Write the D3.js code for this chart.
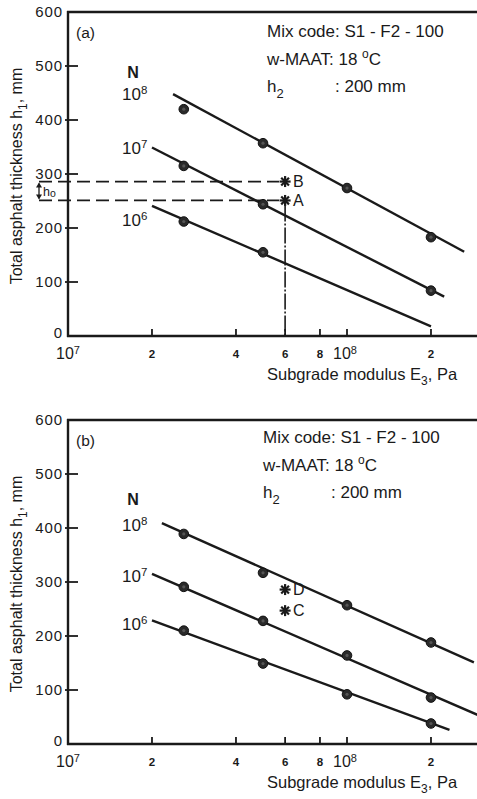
<!DOCTYPE html>
<html>
<head>
<meta charset="utf-8">
<script src="https://cdn.jsdelivr.net/npm/d3@7"></script>
<style>
  html, body { margin: 0; padding: 0; background: #fff; }
  svg { display: block; }
  text { font-family: "Liberation Sans", Arial, Helvetica, sans-serif; fill: #1a1a1a; }
</style>
</head>
<body>
<svg id="chart" width="477" height="799"></svg>
<script>
// Subgrade modulus E3 (Pa) at which the design curves were evaluated
const moduli = [2.6e7, 5e7, 1e8, 2e8];
// Traffic levels (load repetitions N)
const trafficLabels = ["8", "7", "6"];

// Panel (a): computed thicknesses h1 (mm), null where no point was computed
const aN8 = [420, 357, 274, 183];
const aN7 = [315, 244, null, 84];
const aN6 = [212, 155, null, null];
// Panel (a): fitted design lines as [E3, h1] end points
const aLine8 = [[2.38e7, 448], [2.63e8, 156]];
const aLine7 = [[2.0e7, 349], [2.23e8, 73]];
const aLine6 = [[2.0e7, 241], [2.0e8, 18]];
// Panel (a): designs A and B at E3 = 6e7 Pa
const aStars = [{ name: "B", e: 6e7, h: 286 }, { name: "A", e: 6e7, h: 251 }];

// Panel (b): computed thicknesses h1 (mm)
const bN8 = [389, 317, 257, 188];
const bN7 = [291, 228, 164, 86];
const bN6 = [210, 149, 92, 38];
// Panel (b): fitted design lines
const bLine8 = [[2.17e7, 409], [2.85e8, 151]];
const bLine7 = [[2.0e7, 315], [3.0e8, 52]];
const bLine6 = [[2.0e7, 229], [2.33e8, 26]];
// Panel (b): designs C and D
const bStars = [{ name: "D", e: 6e7, h: 286 }, { name: "C", e: 6e7, h: 247 }];

// Axis ticks
const yTicks = [0, 100, 200, 300, 400, 500, 600];
const xMinorTicks = [2e7, 4e7, 6e7, 8e7, 2e8];
const xMinorLabels = ["2", "4", "6", "8", "2"];
const xDecades = [{ v: 1e7, exp: "7" }, { v: 1e8, exp: "8" }];

const infoLines = ["Mix code: S1 - F2 - 100", "w-MAAT: 18 ", ": 200 mm"];

const svg = d3.select("#chart");
const W = 477;
const ink = "#1a1a1a";

const x = d3.scaleLog().domain([1e7, 1e8]).range([68, 347]);

function drawPanel(opt) {
  const g = svg.append("g");
  const y = d3.scaleLinear().domain([0, 600]).range([opt.y0, opt.y0 - 324]);
  const xEnd = x(4e8);

  const clipId = "clip" + opt.tag;
  svg.append("clipPath").attr("id", clipId)
    .append("rect").attr("x", 0).attr("y", y(620)).attr("width", W).attr("height", y(-10) - y(620));
  const plot = g.append("g").attr("clip-path", `url(#${clipId})`);

  // frame: left and bottom axes, top border
  g.append("line").attr("x1", x(1e7)).attr("x2", x(1e7)).attr("y1", y(0) + 1).attr("y2", y(600) - 1)
    .attr("stroke", ink).attr("stroke-width", 2.4);
  g.append("line").attr("x1", x(1e7) - 1).attr("x2", xEnd).attr("y1", y(0)).attr("y2", y(0))
    .attr("stroke", ink).attr("stroke-width", 2.4);
  g.append("line").attr("x1", x(1e7) - 1).attr("x2", xEnd).attr("y1", y(600)).attr("y2", y(600))
    .attr("stroke", ink).attr("stroke-width", 2.4);

  // y ticks (inward) and labels
  yTicks.forEach(t => {
    if (t > 0 && t < 600) {
      g.append("line").attr("x1", x(1e7) - 3).attr("x2", x(1e7) + 10).attr("y1", y(t)).attr("y2", y(t))
        .attr("stroke", ink).attr("stroke-width", 1.8);
    }
    g.append("text").attr("x", x(1e7) - 5).attr("y", y(t) - (t === 0 ? 3 : 0)).attr("dy", "0.36em")
      .attr("text-anchor", "end").attr("font-size", 15).attr("letter-spacing", 0.9).text(t);
  });

  // x ticks (inward)
  xMinorTicks.concat([1e8]).forEach(t => {
    g.append("line").attr("x1", x(t)).attr("x2", x(t)).attr("y1", y(0)).attr("y2", y(0) - 7)
      .attr("stroke", ink).attr("stroke-width", 1.8);
  });
  xMinorTicks.forEach((t, i) => {
    g.append("text").attr("x", x(t)).attr("y", y(0) + 22).attr("text-anchor", "middle")
      .attr("font-size", 11.5).attr("font-weight", "bold").text(xMinorLabels[i]);
  });
  xDecades.forEach(d => {
    const tx = g.append("text").attr("x", x(d.v) - (d.v === 1e7 ? 0 : 2)).attr("y", y(0) + 23)
      .attr("text-anchor", "middle").attr("font-size", 16);
    tx.append("tspan").text("10");
    tx.append("tspan").attr("dy", -5).attr("font-size", 11).text(d.exp);
  });

  // axis titles
  const xt = g.append("text").attr("x", 267).attr("y", y(0) + 44).attr("font-size", 16.5);
  xt.append("tspan").text("Subgrade modulus E");
  xt.append("tspan").attr("dy", 5).attr("font-size", 12).text("3");
  xt.append("tspan").attr("dy", -5).text(", Pa");

  const yt = g.append("text")
    .attr("transform", `translate(22,${y(300) + 2}) rotate(-90)`)
    .attr("text-anchor", "middle").attr("font-size", 16);
  yt.append("tspan").text("Total asphalt thickness h");
  yt.append("tspan").attr("dy", 5).attr("font-size", 12).text("1");
  yt.append("tspan").attr("dy", -5).text(", mm");

  // panel tag
  g.append("text").attr("x", 76).attr("y", y(600) + 26).attr("font-size", 15.5).text(`(${opt.tag})`);

  // info block
  const ix = opt.infoX, iy = y(600) + opt.infoDy;
  g.append("text").attr("x", ix).attr("y", iy).attr("font-size", 17).text(infoLines[0]);
  const t2 = g.append("text").attr("x", ix).attr("y", iy + 28).attr("font-size", 17);
  t2.append("tspan").text(infoLines[1]);
  t2.append("tspan").attr("dy", -7).attr("font-size", 12).text("o");
  t2.append("tspan").attr("dy", 7).text("C");
  const t3 = g.append("text").attr("x", ix).attr("y", iy + 55).attr("font-size", 17);
  t3.append("tspan").text("h");
  t3.append("tspan").attr("dy", 6).attr("font-size", 13).text("2");
  g.append("text").attr("x", ix + 68).attr("y", iy + 55).attr("font-size", 17).text(infoLines[2]);

  // N labels
  g.append("text").attr("x", 133).attr("y", opt.nY).attr("font-size", 16).attr("font-weight", "bold")
    .attr("text-anchor", "middle").text("N");
  opt.labelY.forEach((ly, i) => {
    const t = g.append("text").attr("x", 122).attr("y", ly).attr("font-size", 17);
    t.append("tspan").text("10");
    t.append("tspan").attr("dy", -6).attr("font-size", 11.5).text(trafficLabels[i]);
  });

  // fitted lines
  const lineGen = d3.line().x(d => x(d[0])).y(d => y(d[1]));
  opt.lines.forEach(l => {
    plot.append("path").attr("d", lineGen(l)).attr("fill", "none")
      .attr("stroke", ink).attr("stroke-width", 2.4);
  });

  // computed points
  opt.series.forEach(s => {
    s.forEach((h, i) => {
      if (h == null) return;
      plot.append("circle").attr("cx", x(moduli[i])).attr("cy", y(h)).attr("r", 4.8)
        .attr("fill", "#2a2a2a").attr("stroke", "#111").attr("stroke-width", 1);
      plot.append("circle").attr("cx", x(moduli[i])).attr("cy", y(h)).attr("r", 1.6)
        .attr("fill", "#555");
    });
  });

  // reference construction lines (panel a)
  if (opt.guides) {
    opt.stars.forEach(s => {
      g.append("line").attr("x1", 39).attr("x2", x(s.e) - 6).attr("y1", y(s.h)).attr("y2", y(s.h))
        .attr("stroke", ink).attr("stroke-width", 1.8).attr("stroke-dasharray", "13,6");
    });
    const a = opt.stars[1];
    g.append("line").attr("x1", x(a.e)).attr("x2", x(a.e)).attr("y1", y(a.h) + 5).attr("y2", y(0))
      .attr("stroke", ink).attr("stroke-width", 1.6).attr("stroke-dasharray", "16,2,2,2");
    // h0 dimension arrow
    const b = opt.stars[0];
    const ax = 39;
    g.append("line").attr("x1", ax).attr("x2", ax).attr("y1", y(b.h) + 2).attr("y2", y(a.h) - 2)
      .attr("stroke", ink).attr("stroke-width", 1.3);
    g.append("path").attr("d", `M${ax - 3},${y(b.h) + 6}L${ax},${y(b.h) + 1}L${ax + 3},${y(b.h) + 6}Z`)
      .attr("fill", ink);
    g.append("path").attr("d", `M${ax - 3},${y(a.h) - 6}L${ax},${y(a.h) - 1}L${ax + 3},${y(a.h) - 6}Z`)
      .attr("fill", ink);
    const ht = g.append("text").attr("x", 43).attr("y", (y(a.h) + y(b.h)) / 2 + 5).attr("font-size", 12.5);
    ht.append("tspan").text("h");
    ht.append("tspan").attr("dy", 1).attr("font-size", 10.5).text("o");
  }

  // design stars
  opt.stars.forEach(s => {
    const cx = x(s.e), cy = y(s.h), r = 5.5;
    const st = g.append("g");
    for (let k = 0; k < 4; k++) {
      const ang = k * Math.PI / 4;
      st.append("line")
        .attr("x1", cx - r * Math.cos(ang)).attr("y1", cy - r * Math.sin(ang))
        .attr("x2", cx + r * Math.cos(ang)).attr("y2", cy + r * Math.sin(ang))
        .attr("stroke", ink).attr("stroke-width", 2.2);
    }
    g.append("text").attr("x", cx + 8).attr("y", cy).attr("dy", "0.36em")
      .attr("font-size", 16).text(s.name);
  });
}

drawPanel({
  tag: "a", y0: 336, infoX: 267, infoDy: 25,
  nY: 78, labelY: [100, 154, 226],
  lines: [aLine8, aLine7, aLine6],
  series: [aN8, aN7, aN6],
  stars: aStars, guides: true
});

drawPanel({
  tag: "b", y0: 744, infoX: 263, infoDy: 23,
  nY: 505, labelY: [531, 582, 630],
  lines: [bLine8, bLine7, bLine6],
  series: [bN8, bN7, bN6],
  stars: bStars, guides: false
});
</script>
</body>
</html>
